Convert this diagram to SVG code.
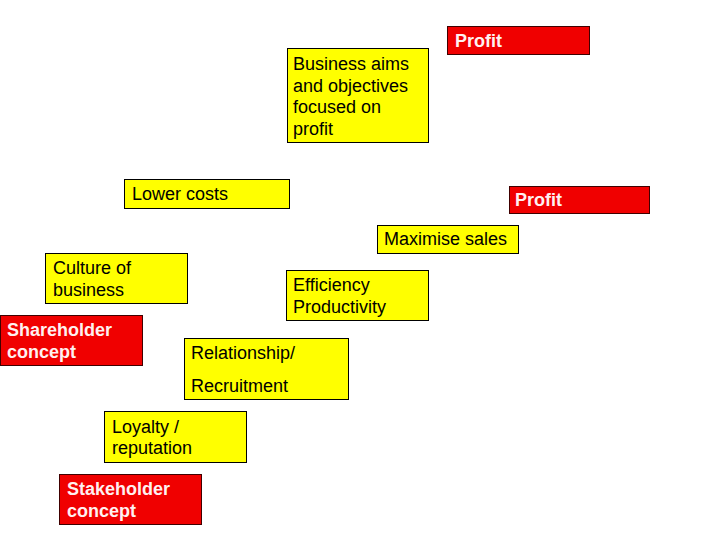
<svg xmlns="http://www.w3.org/2000/svg" width="720" height="540" viewBox="0 0 720 540">
<style>
.y{fill:#FFFF00;stroke:#000;stroke-width:1}
.r{fill:#F00000;stroke:#400000;stroke-width:1}
.t{font-family:"Liberation Sans",Arial,sans-serif;font-size:18px;fill:#000}
.w{font-family:"Liberation Sans",Arial,sans-serif;font-size:18px;font-weight:bold;fill:#FFF0F0}
</style>
<rect width="720" height="540" fill="#fff"/>
<g id="connectors"></g>
<g id="profit-top"><rect class="r" x="447.5" y="26.5" width="142" height="28"/><text class="w" x="455" y="47">Profit</text></g>
<g id="business-aims"><rect class="y" x="287.5" y="48.5" width="141" height="94"/><text class="t" x="293" y="70">Business aims</text><text class="t" x="293" y="92">and objectives</text><text class="t" x="293" y="113">focused on</text><text class="t" x="293" y="135">profit</text></g>
<g id="lower-costs"><rect class="y" x="124.5" y="179.5" width="165" height="29"/><text class="t" x="132" y="200">Lower costs</text></g>
<g id="profit-right"><rect class="r" x="509.5" y="186.5" width="140" height="27"/><text class="w" x="515" y="206">Profit</text></g>
<g id="maximise-sales"><rect class="y" x="377.5" y="225.5" width="141" height="28"/><text class="t" x="384" y="245">Maximise sales</text></g>
<g id="culture"><rect class="y" x="45.5" y="253.5" width="142" height="50"/><text class="t" x="53" y="274">Culture of</text><text class="t" x="53" y="296">business</text></g>
<g id="efficiency"><rect class="y" x="286.5" y="270.5" width="142" height="50"/><text class="t" x="293" y="291">Efficiency</text><text class="t" x="293" y="313">Productivity</text></g>
<g id="shareholder"><rect class="r" x="0.5" y="315.5" width="142" height="50"/><text class="w" x="7" y="336">Shareholder</text><text class="w" x="7" y="358">concept</text></g>
<g id="relationship"><rect class="y" x="184.5" y="338.5" width="164" height="61"/><text class="t" x="191" y="359">Relationship/</text><text class="t" x="191" y="392">Recruitment</text></g>
<g id="loyalty"><rect class="y" x="104.5" y="411.5" width="142" height="51"/><text class="t" x="112" y="433">Loyalty /</text><text class="t" x="112" y="454">reputation</text></g>
<g id="stakeholder"><rect class="r" x="59.5" y="474.5" width="142" height="50"/><text class="w" x="67" y="495">Stakeholder</text><text class="w" x="67" y="517">concept</text></g>
</svg>
